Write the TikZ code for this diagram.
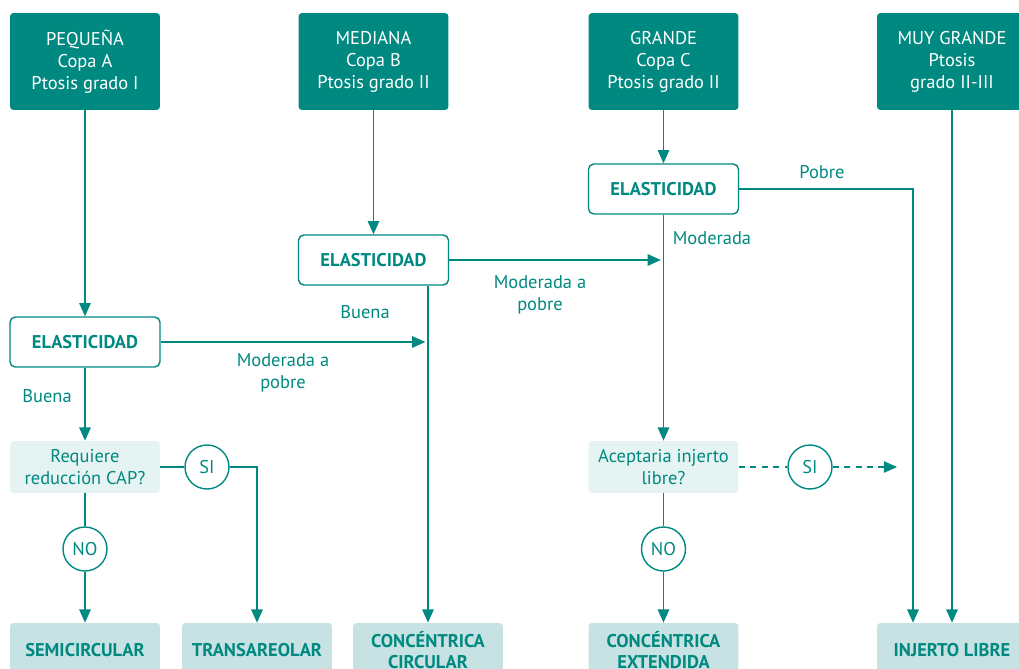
\documentclass[tikz,border=0pt]{standalone}
\usepackage{fontspec}
\setmainfont{PT Sans}
\usetikzlibrary{arrows.meta, positioning}
\definecolor{tealdk}{RGB}{0,137,128}
\definecolor{tealpale}{RGB}{230,243,243}
\definecolor{teallt}{RGB}{198,226,226}

\begin{document}
\begin{tikzpicture}[
    x=0.02cm, y=-0.02cm,
    >={Triangle[length=7.5pt,width=6.5pt]},
    sizebox/.style={rectangle, rounded corners=2pt, fill=tealdk, text=white, minimum width=3cm, minimum height=1.94cm, align=center, font=\fontsize{10.5}{12.5}\selectfont},
    elastbox/.style={rectangle, rounded corners=3pt, draw=tealdk, fill=white, line width=0.8pt, minimum width=3cm, minimum height=1cm, text=tealdk, font=\fontsize{10.5}{12.5}\selectfont\bfseries},
    askbox/.style={rectangle, rounded corners=2pt, fill=tealpale, text=tealdk, minimum width=3cm, minimum height=1.04cm, align=center, font=\fontsize{10.5}{12.5}\selectfont},
    resultbox/.style={rectangle, rounded corners=2pt, fill=teallt, text=tealdk, minimum width=3cm, minimum height=1.08cm, align=center, font=\fontsize{10.5}{12}\selectfont\bfseries},
    choice/.style={circle, draw=tealdk, fill=white, line width=0.8pt, minimum size=0.88cm, inner sep=0pt, text=tealdk, font=\fontsize{10.5}{12.5}\selectfont},
    link/.style={draw=tealdk, line width=0.8pt},
    flow/.style={->, link},
    lbl/.style={text=tealdk, align=center, font=\fontsize{10.5}{12.5}\selectfont}
  ]
  \clip (0,0) rectangle (1019,669);

  % Size of the breast
  \node[sizebox] (small) at (85,61.5) {PEQUEÑA\\Copa A\\Ptosis grado I};
  \node[sizebox] (medium) at (373.5,61.5) {MEDIANA\\Copa B\\Ptosis grado II};
  \node[sizebox] (large) at (663.5,61.5) {GRANDE\\Copa C\\Ptosis grado II};
  \node[sizebox] (xlarge) at (952,61.5) {MUY GRANDE\\Ptosis\\grado II-III};

  % Elasticity
  \node[elastbox] (elast1) at (85,342) {ELASTICIDAD};
  \node[elastbox] (elast2) at (373.5,260) {ELASTICIDAD};
  \node[elastbox] (elast3) at (663.5,189) {ELASTICIDAD};

  % Questions and answers
  \node[askbox] (ask1) at (85,467) {Requiere\\reducción CAP?};
  \node[askbox] (ask2) at (663.5,467) {Aceptaria injerto\\libre?};
  \node[choice] (yes1) at (207,467) {SI};
  \node[choice] (no1) at (85,549) {NO};
  \node[choice] (yes2) at (810,467) {SI};
  \node[choice] (no2) at (663.5,549) {NO};
  \coordinate (yesend) at (897,467);

  % Techniques
  \node[resultbox] (semi) at (85,650) {SEMICIRCULAR};
  \node[resultbox] (trans) at (257,650) {TRANSAREOLAR};
  \node[resultbox] (ccirc) at (428,650) {CONCÉNTRICA\\CIRCULAR};
  \node[resultbox] (cext) at (663.5,650) {CONCÉNTRICA\\EXTENDIDA};
  \node[resultbox] (graft) at (952,650) {INJERTO LIBRE};

  % Connectors
  \draw[flow] (small) -- (elast1);
  \draw[flow] (medium) -- (elast2);
  \draw[flow] (large) -- (elast3);
  \draw[flow] (xlarge) -- (graft);

  \draw[flow] (elast1) -- (ask1);
  \draw[flow, shorten >=1.5pt] (elast1) -- (elast1 -| ccirc.north);
  \draw[flow] (ccirc.north |- elast2.south) -- (ccirc.north);
  \draw[flow, shorten >=1.5pt] (elast2) -- (elast2 -| cext.north);
  \draw[flow] (elast3) -- (ask2);
  \draw[flow] (elast3.east) -| ([xshift=-0.78cm]graft.north);

  \draw[link] (ask1) -- (yes1);
  \draw[flow] (yes1) -| (trans);
  \draw[link] (ask1) -- (no1);
  \draw[flow] (no1) -- (semi);
  \draw[link] (ask2) -- (no2);
  \draw[flow] (no2) -- (cext);
  \draw[link, dash pattern=on 3.5pt off 3pt] (ask2) -- (yes2);
  \draw[flow, dash pattern=on 3.5pt off 3pt] (yes2) -- (yesend);

  % Labels
  \node[lbl] at (47,396) {Buena};
  \node[lbl] at (283,373) {Moderada a\\pobre};
  \node[lbl] at (365,312) {Buena};
  \node[lbl] at (540,294.5) {Moderada a\\pobre};
  \node[lbl] at (712,238) {Moderada};
  \node[lbl] at (822,172) {Pobre};

\end{tikzpicture}
\end{document}
